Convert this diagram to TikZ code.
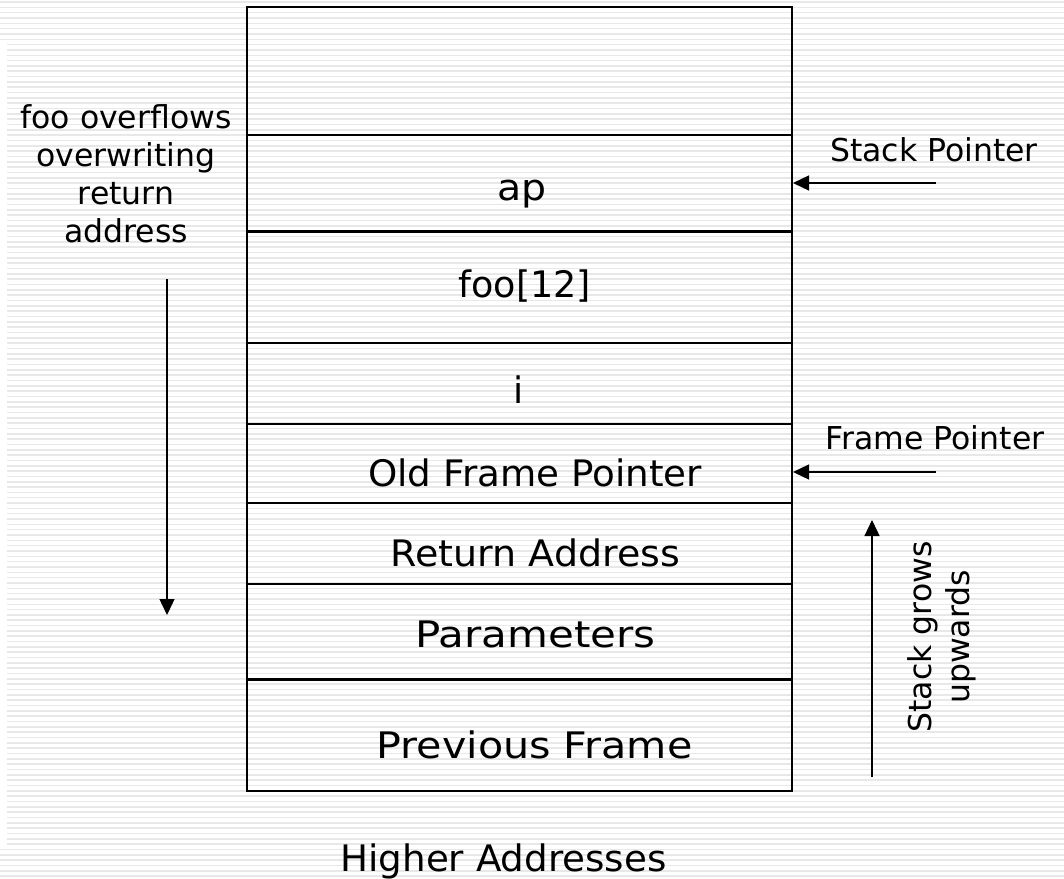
\documentclass[tikz,border=0pt]{standalone}
\usepackage{fontspec}
\setmainfont{DejaVu Sans}
\usetikzlibrary{arrows.meta}
\begin{document}
\begin{tikzpicture}[x=1pt,y=-1pt,
  stripe/.style={draw=black!9,line width=1.6pt},
  frame/.style={draw=black,line width=2.6pt},
  divider/.style={draw=black,line width=2.4pt},
  lbl/.style={inner sep=0pt,font=\fontsize{31.5}{38}\selectfont},
  rowlbl/.style={inner sep=0pt,font=\fontsize{36.5}{44}\selectfont},
  ptr/.style={draw=black,line width=1.3pt,-{Triangle[length=16pt,width=15pt]}}]
\useasboundingbox (0,0) rectangle (1064,878);
\fill[white] (0,0) rectangle (1064,878);
% background stripes
\foreach \i in {0,...,164}{
  \pgfmathsetmacro\yy{2+\i*5.33}
  \pgfmathsetmacro\xs{(\yy<40 || \yy>846) ? 0 : 7}
  \draw[stripe] (\xs,\yy) -- (1064,\yy);
}
% stack box
\draw[frame] (247,7) rectangle (792,791);
\foreach \y in {135,231.5,343,424,503,584,679.5}{
  \draw[divider] (247,\y) -- (792,\y);
}
% row labels
\node[rowlbl,anchor=base,xscale=1.08] (ap) at (522,200) {ap};
\node[rowlbl,anchor=base] (foo) at (525,297) {foo[12]};
\node[rowlbl,anchor=base] (ivar) at (519,403) {i};
\node[rowlbl,anchor=base,xscale=1.02] (ofp) at (535,486) {Old Frame Pointer};
\node[rowlbl,anchor=base,xscale=1.04] (ret) at (535.5,566) {Return Address};
\node[rowlbl,anchor=base,xscale=1.15] (par) at (535.5,647) {Parameters};
\node[rowlbl,anchor=base,xscale=1.13] (prev) at (534.5,758) {Previous Frame};
\node[rowlbl,anchor=base,xscale=1.02] (high) at (503.5,871) {Higher Addresses};
% pointers
\node[lbl,anchor=base] (sp) at (934,161) {Stack Pointer};
\node[lbl,anchor=base] (fp) at (935,449) {Frame Pointer};
\coordinate (spS) at (936,183);
\coordinate (spE) at (793,183);
\coordinate (fpS) at (936,472);
\coordinate (fpE) at (793,472);
\draw[ptr] (spS) -- (spE);
\draw[ptr] (fpS) -- (fpE);
% overflow note
\node[lbl,align=center] (ovf) at (126,174) {foo overflows\\overwriting\\return\\address};
\coordinate (ovS) at (167,279);
\coordinate (ovE) at (167,615);
\draw[ptr] (ovS) -- (ovE);
% growth note
\coordinate (grS) at (872,777);
\coordinate (grE) at (872,520);
\draw[ptr] (grS) -- (grE);
\node[lbl,align=center,rotate=90] (grow) at (942,637) {Stack grows\\upwards};
\end{tikzpicture}
\end{document}
